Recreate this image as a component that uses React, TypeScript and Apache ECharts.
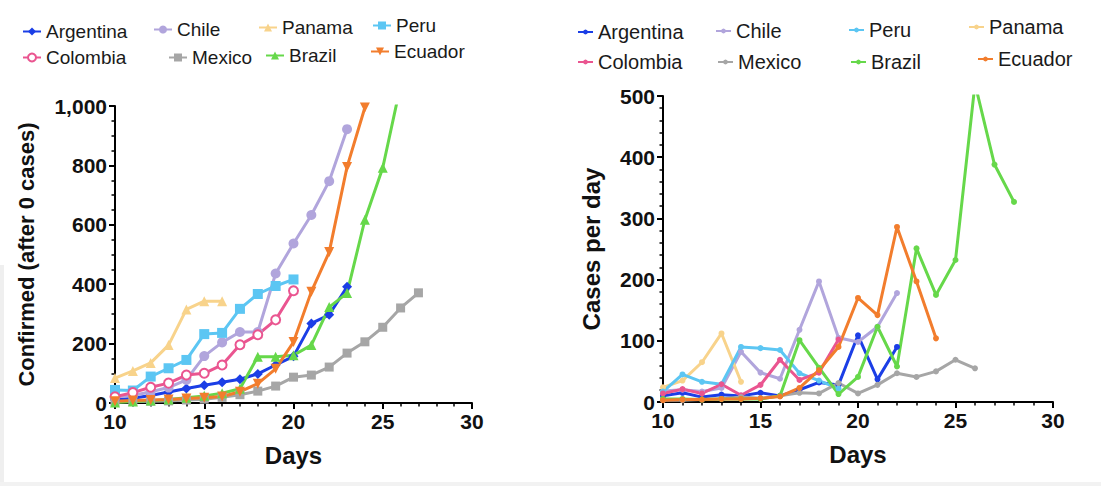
import React, { useEffect, useRef } from "react";
import * as echarts from "echarts";

const FONT = '"Liberation Sans", Arial, Helvetica, sans-serif';

// Country order / colours
const NAMES = ["Argentina", "Chile", "Panama", "Peru", "Colombia", "Mexico", "Brazil", "Ecuador"];
const COLORS: Record<string, string> = {
  Argentina: "#1b3ee6",
  Chile: "#b1a5dc",
  Panama: "#f8d38b",
  Peru: "#5cc6f3",
  Colombia: "#ea5590",
  Mexico: "#a6a6a6",
  Brazil: "#66d84a",
  Ecuador: "#f27d2d",
};

// ---------- Left chart: confirmed (cumulative), all series start on day 10 ----------
const START_DAY = 10;
const confArgentina = [10, 16, 25, 37, 49, 60, 70, 80, 98, 128, 157, 268, 297, 391];
const confChile = [20, 25, 38, 52, 78, 158, 204, 239, 239, 436, 537, 633, 747, 922];
const confPanama = [84, 108, 135, 195, 315, 343, 343];
const confPeru = [44, 42, 89, 117, 145, 232, 236, 317, 367, 394, 416];
const confColombia = [21, 35, 53, 67, 94, 100, 128, 196, 230, 280, 378];
const confMexico = [4, 5, 6, 7, 10, 13, 19, 28, 40, 57, 87, 94, 121, 168, 206, 255, 320, 371];
const confBrazil = [2, 5, 8, 12, 18, 24, 33, 48, 156, 156, 161, 195, 323, 370, 617, 792, 1070];
const confEcuador = [6, 8, 10, 12, 15, 18, 22, 38, 65, 115, 205, 375, 508, 795, 995];

// ---------- Right chart: cases per day ----------
const dayArgentina = [10, 15, 8, 12, 10, 15, 10, 20, 32, 28, 109, 37, 90];
const dayChile = [18, 20, 17, 23, 82, 48, 38, 118, 197, 105, 98, 123, 178];
const dayPeru = [17, 45, 33, 29, 90, 88, 85, 47, 35, 22];
const dayPanama = [24, 35, 65, 112, 33];
const dayColombia = [14, 21, 14, 29, 11, 28, 69, 36, 48, 102];
const dayMexico = [3, 3, 4, 5, 8, 6, 10, 15, 14, 31, 14, 28, 47, 41, 50, 69, 55];
const dayBrazil = [5, 5, 4, 5, 5, 5, 10, 101, 56, 13, 41, 123, 58, 251, 175, 232, 520, 388, 327];
const dayEcuador = [3, 4, 4, 5, 5, 6, 9, 23, 52, 90, 170, 142, 286, 197, 104];

const CONF: Record<string, number[]> = {
  Argentina: confArgentina,
  Chile: confChile,
  Panama: confPanama,
  Peru: confPeru,
  Colombia: confColombia,
  Mexico: confMexico,
  Brazil: confBrazil,
  Ecuador: confEcuador,
};
const DAILY: Record<string, number[]> = {
  Argentina: dayArgentina,
  Chile: dayChile,
  Panama: dayPanama,
  Peru: dayPeru,
  Colombia: dayColombia,
  Mexico: dayMexico,
  Brazil: dayBrazil,
  Ecuador: dayEcuador,
};

// Tick labels
const X_MIN = 10;
const X_MAX = 30;
const X_STEP = 5;
const CONF_MAX = 1000;
const CONF_STEP = 200;
const DAILY_MAX = 500;
const DAILY_STEP = 100;

const SYMBOLS: Record<string, { symbol: string; size: number; rotate?: number }> = {
  Argentina: { symbol: "diamond", size: 10 },
  Chile: { symbol: "circle", size: 10 },
  Panama: { symbol: "triangle", size: 10 },
  Peru: { symbol: "rect", size: 10 },
  Colombia: { symbol: "emptyCircle", size: 9 },
  Mexico: { symbol: "rect", size: 9 },
  Brazil: { symbol: "triangle", size: 10 },
  Ecuador: { symbol: "triangle", size: 10, rotate: 180 },
};

const toPairs = (vals: number[]) => vals.map((v, i) => [START_DAY + i, v]);

const LEFT_LEGEND: { name: string; left: number; top: number }[] = [
  { name: "Argentina", left: 22, top: 22 },
  { name: "Chile", left: 153, top: 20 },
  { name: "Panama", left: 258, top: 18 },
  { name: "Peru", left: 372, top: 16 },
  { name: "Colombia", left: 22, top: 48 },
  { name: "Mexico", left: 168, top: 48 },
  { name: "Brazil", left: 265, top: 46 },
  { name: "Ecuador", left: 370, top: 42 },
];
const RIGHT_LEGEND: { name: string; left: number; top: number }[] = [
  { name: "Argentina", left: 27, top: 22 },
  { name: "Chile", left: 165, top: 21 },
  { name: "Peru", left: 298, top: 20 },
  { name: "Panama", left: 418, top: 17 },
  { name: "Colombia", left: 27, top: 52 },
  { name: "Mexico", left: 167, top: 52 },
  { name: "Brazil", left: 300, top: 52 },
  { name: "Ecuador", left: 427, top: 49 },
];

const axisCommon = {
  axisLine: { show: true, onZero: false, lineStyle: { color: "#000", width: 2 } },
  axisTick: { show: true, inside: false, length: 6, lineStyle: { color: "#000", width: 2 } },
  minorTick: { show: true, length: 3.5, lineStyle: { color: "#000", width: 1.5 } },
  splitLine: { show: false },
  minorSplitLine: { show: false },
};

function xAxis() {
  return {
    type: "value",
    min: X_MIN,
    max: X_MAX,
    interval: X_STEP,
    name: "Days",
    nameLocation: "middle",
    nameGap: 40,
    nameTextStyle: { fontFamily: FONT, fontSize: 24, fontWeight: "bold", color: "#111" },
    ...axisCommon,
    minorTick: { ...axisCommon.minorTick, splitNumber: 5 },
    axisLabel: { fontFamily: FONT, fontSize: 21, fontWeight: "bold", color: "#111", margin: 8 },
  };
}

function legends(list: { name: string; left: number; top: number }[], fontSize: number, iw: number, ih: number) {
  return list.map((l) => ({
    data: [l.name],
    left: l.left,
    top: l.top,
    padding: 0,
    itemWidth: iw,
    itemHeight: ih,
    itemGap: 0,
    selectedMode: false,
    textStyle: { fontFamily: FONT, fontSize, color: "#1a1a1a", padding: [0, 0, 0, 0] },
  }));
}

function leftOption() {
  return {
    animation: false,
    backgroundColor: "transparent",
    legend: legends(LEFT_LEGEND, 19, 18, 10),
    grid: { left: 115, top: 106, width: 357, height: 297, containLabel: false },
    xAxis: xAxis(),
    yAxis: {
      type: "value",
      min: 0,
      max: CONF_MAX,
      interval: CONF_STEP,
      name: "Confirmed (after 0 cases)",
      nameLocation: "middle",
      nameGap: 78,
      nameTextStyle: { fontFamily: FONT, fontSize: 22, fontWeight: "bold", color: "#111" },
      ...axisCommon,
      minorTick: { ...axisCommon.minorTick, splitNumber: 4 },
      axisLabel: {
        fontFamily: FONT,
        fontSize: 21,
        fontWeight: "bold",
        color: "#111",
        margin: 8,
        formatter: (v: number) => v.toLocaleString("en-US"),
      },
    },
    series: NAMES.map((n) => ({
      name: n,
      type: "line",
      data: toPairs(CONF[n]),
      symbol: SYMBOLS[n].symbol,
      symbolSize: SYMBOLS[n].size,
      symbolRotate: SYMBOLS[n].rotate || 0,
      showAllSymbol: true,
      clip: true,
      color: COLORS[n],
      lineStyle: { width: 3, color: COLORS[n] },
      itemStyle: { color: COLORS[n], borderColor: COLORS[n], borderWidth: SYMBOLS[n].symbol === "emptyCircle" ? 2.5 : 0 },
    })),
  };
}

function rightOption() {
  return {
    animation: false,
    backgroundColor: "transparent",
    legend: legends(RIGHT_LEGEND, 20, 15, 6),
    grid: { left: 113, top: 96, width: 390, height: 306, containLabel: false },
    xAxis: xAxis(),
    yAxis: {
      type: "value",
      min: 0,
      max: DAILY_MAX,
      interval: DAILY_STEP,
      name: "Cases per day",
      nameLocation: "middle",
      nameGap: 60,
      nameTextStyle: { fontFamily: FONT, fontSize: 24, fontWeight: "bold", color: "#111" },
      ...axisCommon,
      minorTick: { ...axisCommon.minorTick, splitNumber: 5 },
      axisLabel: { fontFamily: FONT, fontSize: 21, fontWeight: "bold", color: "#111", margin: 8 },
    },
    series: NAMES.map((n) => ({
      name: n,
      type: "line",
      data: toPairs(DAILY[n]),
      symbol: "circle",
      symbolSize: 6,
      showAllSymbol: true,
      clip: true,
      color: COLORS[n],
      lineStyle: { width: 3, color: COLORS[n] },
      itemStyle: { color: COLORS[n] },
    })),
  };
}

function Chart({ option, left, width }: { option: any; left: number; width: number }) {
  const ref = useRef<HTMLDivElement>(null);
  useEffect(() => {
    if (!ref.current) return;
    const chart = echarts.init(ref.current, undefined, { renderer: "svg" });
    chart.setOption(option);
    return () => chart.dispose();
  }, []);
  return (
    <div
      ref={ref}
      style={{ position: "absolute", left, top: 0, width, height: 486 }}
    />
  );
}

export default function App() {
  return (
    <div
      style={{
        position: "absolute",
        left: 0,
        top: 0,
        width: 1101,
        height: 486,
        background: "#ffffff",
        overflow: "hidden",
      }}
    >
      <div style={{ position: "absolute", left: 0, top: 265, width: 4, height: 221, background: "#efefef" }} />
      <div style={{ position: "absolute", left: 0, top: 482, width: 1101, height: 4, background: "#f2f2f2" }} />
      <Chart option={leftOption()} left={0} width={550} />
      <Chart option={rightOption()} left={550} width={551} />
    </div>
  );
}
